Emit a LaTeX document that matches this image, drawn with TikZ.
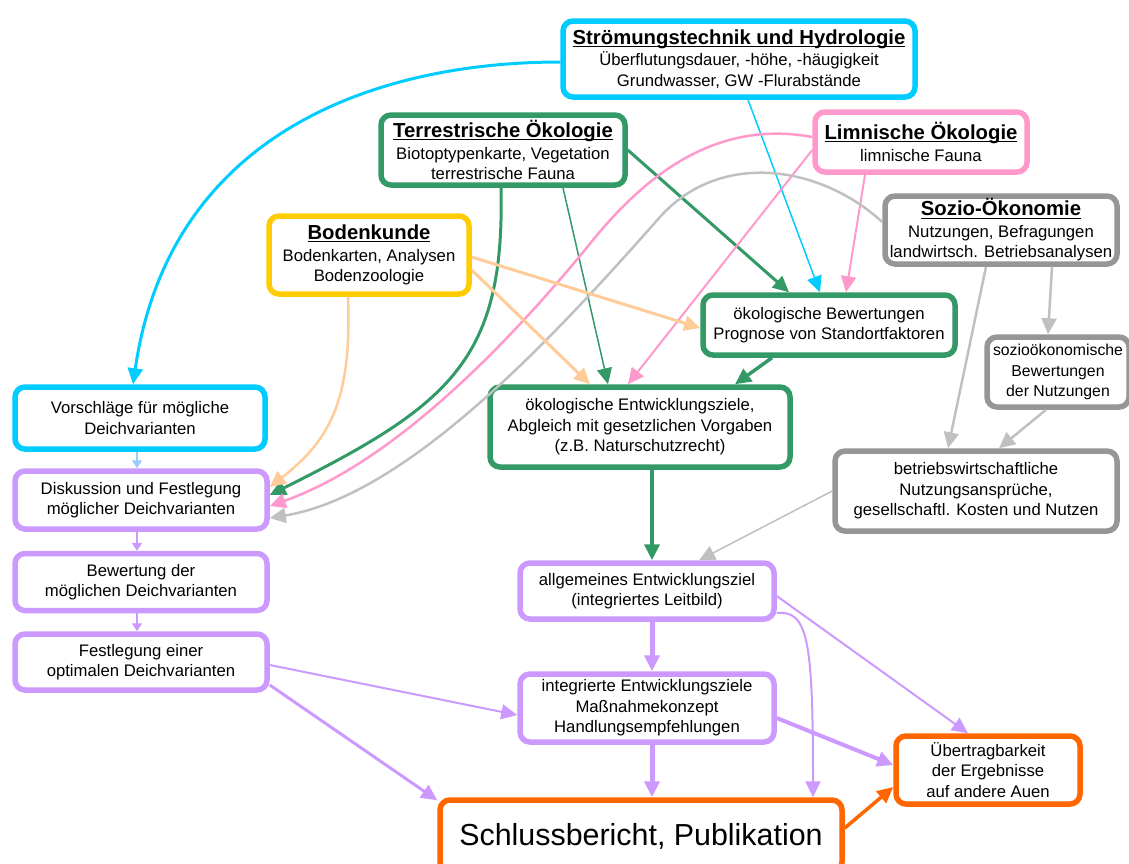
\documentclass[tikz,border=0pt]{standalone}
\usepackage{fontspec}
\setmainfont{Liberation Sans}
\usetikzlibrary{arrows.meta}
\definecolor{ccyan}{HTML}{00CCFF}
\definecolor{cgreen}{HTML}{339966}
\definecolor{cpink}{HTML}{FF99CC}
\definecolor{cgrey}{HTML}{969696}
\definecolor{clgrey}{HTML}{C0C0C0}
\definecolor{cyellow}{HTML}{FFCC00}
\definecolor{cpurple}{HTML}{CC99FF}
\definecolor{corange}{HTML}{FF6600}
\definecolor{csand}{HTML}{FFCC99}
\definecolor{clblue}{HTML}{99CCFF}
\newcommand\boxhead[1]{{\fontsize{20.3}{23}\selectfont\bfseries\setbox0\hbox{#1}\rlap{\rule[-2.6pt]{\wd0}{1pt}}\box0}}
\tikzset{
  every picture/.style={font=\fontsize{16.7}{20.5}\selectfont},
  box/.style={draw=#1, fill=white, rounded corners=10pt, line width=5.5pt, align=center, inner sep=0pt},
  box/.default=cgrey,
  arrow/.style={-{Triangle[length=16pt,width=15pt]}, draw=#1, line width=2pt},
  arrow/.default=cgrey,
  small/.style={-{Triangle[length=8pt,width=10pt]}, line width=2pt},
}

\begin{document}
\begin{tikzpicture}[x=1pt, y=-1pt]
  \useasboundingbox (0,0) rectangle (1129,863);
  % sources
  \node[box=ccyan, minimum width=352pt, minimum height=76pt] (hydro) at (739,59) {\boxhead{Strömungstechnik und Hydrologie}\\[1pt]Überflutungsdauer, -höhe, -häugigkeit\\Grundwasser, GW -Flurabstände};
  \node[box=cgreen, minimum width=244pt, minimum height=70pt] (terr) at (503,150) {\boxhead{Terrestrische Ökologie}\\[1pt]Biotoptypenkarte, Vegetation\\terrestrische Fauna};
  \node[box=cpink, minimum width=212pt, minimum height=60pt] (limn) at (921,142) {\boxhead{Limnische Ökologie}\\[1pt]limnische Fauna};
  \node[box=cgrey, minimum width=232pt, minimum height=68pt] (sozio) at (1001,230) {\boxhead{Sozio-Ökonomie}\\[1pt]Nutzungen, Befragungen\\landwirtsch. Betriebsanalysen};
  \node[box=cyellow, minimum width=200pt, minimum height=78pt] (boden) at (369,255) {\boxhead{Bodenkunde}\\[1pt]Bodenkarten, Analysen\\Bodenzoologie};
  % evaluations
  \node[box=cgreen, minimum width=252pt, minimum height=60pt] (oekbew) at (829,325) {ökologische Bewertungen\\Prognose von Standortfaktoren};
  \node[box=cgreen, minimum width=300pt, minimum height=80pt] (oekziel) at (640,427) {ökologische Entwicklungsziele,\\Abgleich mit gesetzlichen Vorgaben\\(z.B. Naturschutzrecht)};
  \node[box=cgrey, minimum width=142pt, minimum height=70pt, font=\fontsize{15.8}{20.5}\selectfont] (soziobew) at (1058,372) {sozioökonomische\\Bewertungen\\der Nutzungen};
  \node[box=cgrey, minimum width=282pt, minimum height=80pt] (betrieb) at (976,491) {betriebswirtschaftliche\\Nutzungsansprüche,\\gesellschaftl. Kosten und Nutzen};
  % dike column
  \node[box=ccyan, minimum width=250pt, minimum height=62pt] (vorschl) at (140,418) {Vorschläge für mögliche\\Deichvarianten};
  \node[box=cpurple, minimum width=252pt, minimum height=58pt] (diskus) at (141,500) {Diskussion und Festlegung\\möglicher Deichvarianten};
  \node[box=cpurple, minimum width=252pt, minimum height=57pt] (bewert) at (141,582) {Bewertung der\\möglichen Deichvarianten};
  \node[box=cpurple, minimum width=252pt, minimum height=56pt] (festl) at (141,662) {Festlegung einer\\optimalen Deichvarianten};
  % results
  \node[box=cpurple, minimum width=254pt, minimum height=56pt] (leitbild) at (647,591) {allgemeines Entwicklungsziel\\(integriertes Leitbild)};
  \node[box=cpurple, minimum width=254pt, minimum height=68pt] (integr) at (647,708) {integrierte Entwicklungsziele\\Maßnahmekonzept\\Handlungsempfehlungen};
  \node[box=corange, minimum width=402pt, minimum height=72pt, font=\fontsize{30.4}{34}\selectfont] (schluss) at (641,836) {Schlussbericht, Publikation};
  \node[box=corange, minimum width=184pt, minimum height=68pt] (uebertr) at (988,770) {Übertragbarkeit\\der Ergebnisse\\auf andere Auen};

  % hydrology
  \draw[arrow=ccyan, line width=3pt] ([yshift=-3pt]hydro.west) .. controls (380,62) and (170,130) .. ([xshift=-7pt]vorschl.north);
  \draw[arrow=ccyan, line width=1.5pt] ([xshift=9pt]hydro.south) -- ([xshift=-9pt]oekbew.north);
  % terrestrial ecology
  \draw[arrow=cgreen, line width=3pt] (terr.east) -- ([xshift=-40pt]oekbew.north);
  \draw[arrow=cgreen, line width=1.5pt] ([xshift=60pt]terr.south) -- ([xshift=-32pt]oekziel.north);
  \draw[arrow=cgreen, line width=3pt] ([xshift=-2pt]terr.south) .. controls (505,360) and (450,405) .. ([yshift=5pt]diskus.east);
  % limnic ecology
  \draw[arrow=cpink, line width=2.5pt] ([yshift=5pt]limn.west) .. controls (720,120) and (650,170) .. (593,240) .. controls (520,330) and (400,460) .. ([yshift=-6pt]diskus.east);
  \draw[arrow=cpink, line width=2pt] ([yshift=-8pt]limn.west) -- ([xshift=-12pt]oekziel.north);
  \draw[arrow=cpink, line width=2pt] ([xshift=-56pt]limn.south) -- ([xshift=17pt]oekbew.north);
  % socio-economics
  \draw[arrow=clgrey, line width=2.5pt] ([yshift=8pt]sozio.west) .. controls (820,165) and (720,150) .. (660,217) .. controls (560,330) and (410,495) .. ([yshift=-18pt]diskus.east);
  \draw[arrow=clgrey, line width=2.5pt] ([xshift=-15pt]sozio.south) -- ([xshift=-28pt]betrieb.north);
  \draw[arrow=clgrey, line width=2.5pt] ([xshift=51pt]sozio.south) -- ([xshift=-10pt]soziobew.north);
  \draw[arrow=clgrey, line width=2.5pt] ([xshift=-12pt]soziobew.south) -- ([xshift=23pt]betrieb.north);
  \draw[arrow=clgrey, line width=1.5pt] (betrieb.west) -- ([xshift=52pt]leitbild.north);
  % soil science
  \draw[arrow=csand, line width=2.5pt] ([xshift=-21pt]boden.south) .. controls (352,400) and (330,440) .. ([yshift=13pt]diskus.east);
  \draw[arrow=csand, line width=3pt] ([yshift=-2pt]boden.east) -- ([yshift=-3pt]oekbew.west);
  \draw[arrow=csand, line width=3pt] ([yshift=-15pt]boden.east) -- ([xshift=-50pt]oekziel.north);
  % ecology chain
  \draw[arrow=cgreen, line width=3.5pt] ([xshift=-57pt]oekbew.south) -- ([xshift=95pt]oekziel.north);
  \draw[arrow=cgreen, line width=4.5pt] ([xshift=12pt]oekziel.south) -- ([xshift=5pt]leitbild.north);
  % dike column
  \draw[small, draw=clblue] ([xshift=-3pt]vorschl.south) -- ([xshift=-4pt]diskus.north);
  \foreach \a/\b in {diskus/bewert, bewert/festl}
    \draw[small, draw=cpurple] ([xshift=-4pt]\a.south) -- ([xshift=-4pt]\b.north);
  \draw[arrow=cpurple, line width=2pt] ([yshift=-3pt]festl.east) -- ([yshift=-7pt]integr.west);
  \draw[arrow=cpurple, line width=3pt] ([yshift=-23pt]festl.east) -- ([yshift=-3pt]schluss.north west);
  % results
  \draw[arrow=cpurple, line width=5pt] ([xshift=5pt]leitbild.south) -- ([xshift=5pt]integr.north);
  \draw[arrow=cpurple, line width=5pt] ([xshift=5pt]integr.south) -- ([xshift=11pt]schluss.north);
  \draw[arrow=cpurple, line width=2pt] ([yshift=-5pt]leitbild.east) -- ([xshift=-20pt]uebertr.north);
  \draw[arrow=cpurple, line width=2pt] ([yshift=-22pt]leitbild.east) .. controls (808,610) and (813,640) .. ([xshift=172pt]schluss.north);
  \draw[arrow=cpurple, line width=4pt] ([yshift=-10pt]integr.east) -- ([yshift=5pt]uebertr.west);
  \draw[arrow=corange, line width=3.5pt] ([yshift=8pt]schluss.east) -- ([yshift=-17pt]uebertr.west);
\end{tikzpicture}
\end{document}
